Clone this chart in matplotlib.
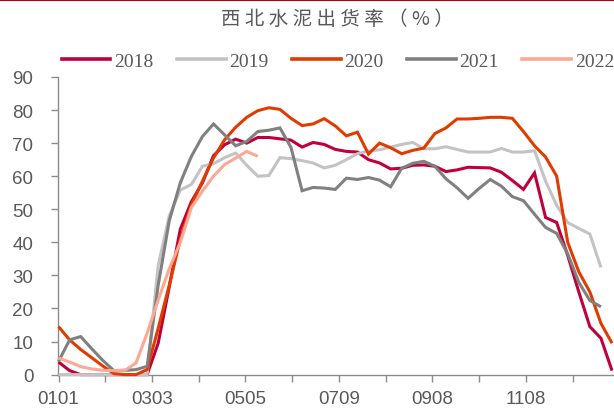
import matplotlib
matplotlib.use("Agg")
import matplotlib.pyplot as plt
from matplotlib.lines import Line2D
import numpy as np

# ---- data ----
title = "西北水泥出货率（%）"
years = ["2018", "2019", "2020", "2021", "2022"]
tick_labels = ["0101", "", "0303", "", "0505", "", "0709", "", "0908", "", "1108", ""]

s2018 = [3.8, 1.2, 0, 0, 0, 0, 0, 0, 0, 9.5, 26.5, 44, 52.3, 58, 66.2, 69.5, 71.2, 70,
         71.7, 71.7, 71.3, 70.9, 68.8, 70.2, 69.6, 68.1, 67.5, 67.3, 65, 64, 62.2, 62.4,
         63.3, 63.4, 63, 61.4, 61.9, 62.7, 62.6, 62.5, 61.2, 58.7, 56, 61, 47.5, 46, 36,
         25, 14.5, 11, 1.2]
s2019 = [0, 0, 0, 0, 0, 0, 0, 0, 0, 33, 48, 55.8, 57.5, 63, 63.8, 65.6, 67, 63.3, 60,
         60.2, 65.6, 65.3, 64.7, 64, 62.5, 63.3, 65, 66.8, 67.6, 68, 68.8, 69.6, 70.2,
         68.3, 68.3, 68.9, 68.1, 67.3, 67.3, 67.3, 68.4, 67.3, 67.3, 67.7, 58.5, 51.2,
         46, 44.2, 42.5, 32.4]
s2020 = [14.5, 10.5, 7.6, 5.1, 2.6, 0.3, 0, 0, 1.5, 14, 27, 41, 51.3, 58.5, 65.5, 71,
         74.8, 77.8, 79.8, 80.7, 80.2, 77.5, 75.3, 75.8, 77.4, 75.2, 72.2, 73.3, 66.7, 70,
         68.6, 66.8, 67.8, 68.5, 72.9, 74.6, 77.3, 77.3, 77.5, 77.8, 77.8, 77.5, 73.5,
         69.2, 65.8, 60, 40, 31.1, 25, 15.5, 9.5]
s2021 = [4, 10.5, 11.5, 7.8, 4.3, 1.2, 1.3, 1.5, 2.5, 27, 46.5, 58, 66, 72, 75.8, 72.5,
         69.2, 70.5, 73.5, 73.9, 74.6, 68.7, 55.6, 56.6, 56.4, 56, 59.4, 59, 59.6, 58.8,
         56.8, 62.4, 63.9, 64.5, 63, 59.2, 56.5, 53.3, 56.3, 59, 57, 53.8, 52.6, 48.5,
         44.5, 42.7, 36.5, 27.9, 22.4, 20.5]
s2022 = [5, 3.8, 2.4, 1.7, 1.3, 1.2, 1.3, 3.5, 12.5, 22.5, 32, 40, 50.5, 55.5, 60, 63.5,
         65.5, 67.5, 66]

series = [s2018, s2019, s2020, s2021, s2022]
colors = ["#C0003A", "#C3C3C3", "#E03C00", "#808080", "#FCA895"]

TICK_STEP = 4.222  # categories per x tick mark

# ---- figure ----
fig = plt.figure(figsize=(6.14, 4.10), dpi=100)
ax = fig.add_axes([0.0950, 0.0839, 0.905, 0.7259])

for vals, col in zip(series, colors):
    x = np.arange(len(vals))
    ax.plot(x, vals, color=col, lw=2.2, solid_capstyle="butt",
            solid_joinstyle="miter", clip_on=False, zorder=3)

ax.set_xlim(-0.02, 50.18)
ax.set_ylim(0, 90)
ax.set_yticks(np.arange(0, 91, 10))
ax.set_xticks(np.arange(len(tick_labels)) * TICK_STEP)
ax.set_xticklabels(tick_labels)

for side in ["top", "right"]:
    ax.spines[side].set_visible(False)
for side in ["left", "bottom"]:
    ax.spines[side].set_color("#8C8C8C")
    ax.spines[side].set_linewidth(1.0)
    ax.spines[side].set_zorder(2)

ax.tick_params(axis="y", direction="out", length=5, width=1, color="#8C8C8C",
               labelsize=13.5, labelcolor="#595959", pad=13)
ax.tick_params(axis="x", direction="out", length=5, width=1, color="#8C8C8C",
               labelsize=13.5, labelcolor="#595959", pad=6)
for lab in ax.get_xticklabels() + ax.get_yticklabels():
    lab.set_fontfamily("Liberation Sans")

# title
fig.text(337 / 614, 1 - 19 / 410, " ".join(title), ha="center", va="center",
         fontsize=14, color="#595959", family=["Noto Sans CJK SC", "DejaVu Sans"])

# legend
handles = [Line2D([0], [0], color=c, lw=2.6) for c in colors]
fig.legend(handles, years, loc="center", bbox_to_anchor=(338 / 614, 1 - 62 / 410),
           ncol=5, frameon=False, handlelength=2.5, handletextpad=0.2,
           columnspacing=1.2, borderpad=0,
           prop={"family": "Liberation Serif", "size": 14}, labelcolor="#595959")

# red rule at top
fig.add_artist(Line2D([0, 1], [0.998, 0.998], color="#C00000", lw=1.5,
                      transform=fig.transFigure))

fig.savefig("out.png", dpi=100)
